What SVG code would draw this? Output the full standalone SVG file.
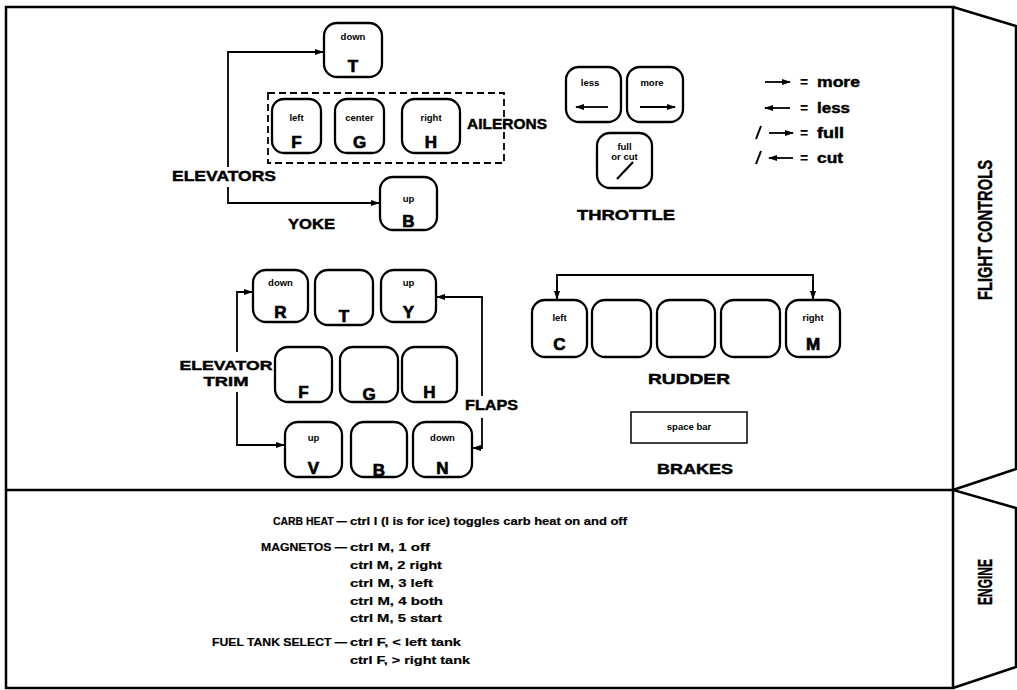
<svg xmlns="http://www.w3.org/2000/svg" width="1017" height="690" viewBox="0 0 1017 690">
<defs>
<marker id="ah" markerWidth="9" markerHeight="6" refX="8" refY="3" orient="auto" markerUnits="userSpaceOnUse">
<path d="M0,0 L9,3 L0,6 z" fill="#000"/>
</marker>
<style>
text{font-family:"Liberation Sans",Arial,sans-serif;font-weight:bold;fill:#000}
.key{fill:#fff;stroke:#000;stroke-width:2.3}
.sm{font-size:9.5px;text-anchor:middle}
.big{font-size:17px;text-anchor:middle;stroke:#000;stroke-width:0.7}
.lab{font-size:15px;stroke:#000;stroke-width:0.45}
.tab{font-size:21px;stroke:#000;stroke-width:0.4;text-anchor:middle}
.eng{font-size:11.5px;stroke:#000;stroke-width:0.2}
.con{fill:none;stroke:#000;stroke-width:1.8}
.frame{fill:none;stroke:#000;stroke-width:2.5}
</style>
</defs>
<rect width="1017" height="690" fill="#fff"/>
<g id="frame">
<path class="frame" d="M6,7 H953 V688 H6 Z M6,490 H953"/>
<path class="frame" d="M953,7 L1016,26 V469 L953,490 L1016,508 V667 L953,688"/>
<text class="tab" transform="translate(992,230) rotate(-90)" textLength="140" lengthAdjust="spacingAndGlyphs">FLIGHT CONTROLS</text>
<text class="tab" transform="translate(992,582) rotate(-90)" textLength="46" lengthAdjust="spacingAndGlyphs">ENGINE</text>
</g>
<g id="connectors">
<path class="con" d="M228,167 V52 H323" marker-end="url(#ah)"/>
<path class="con" d="M228,187 V203 H379" marker-end="url(#ah)"/>
<path class="con" d="M237,352 V292 H252" marker-end="url(#ah)"/>
<path class="con" d="M237,392 V445 H284" marker-end="url(#ah)"/>
<path class="con" d="M482,396 V297 H437" marker-end="url(#ah)"/>
<path class="con" d="M482,418 V448 H473" marker-end="url(#ah)"/>
<path class="con" d="M557,300 V275 H813 V300" />
<path class="con" d="M557,280 V299" marker-end="url(#ah)"/>
<path class="con" d="M813,280 V299" marker-end="url(#ah)"/>
</g>
<g id="elevators">
<text class="lab" x="172" y="181" textLength="104" lengthAdjust="spacingAndGlyphs">ELEVATORS</text>
</g>
<g id="yoke">
<text class="lab" x="288" y="229" textLength="47" lengthAdjust="spacingAndGlyphs">YOKE</text>
</g>
<g id="key-T-down">
<rect class="key" x="324" y="23" width="58" height="54" rx="13"/>
<text class="sm" x="353" y="40">down</text>
<text class="big" x="353" y="72">T</text>
</g>
<g id="ailerons">
<rect x="268" y="93" width="236" height="70" fill="none" stroke="#000" stroke-width="1.8" stroke-dasharray="7,4"/>
<text class="lab" x="467" y="129" textLength="80" lengthAdjust="spacingAndGlyphs">AILERONS</text>
</g>
<g id="key-F-left">
<rect class="key" x="272" y="99" width="49" height="54" rx="12"/>
<text class="sm" x="296.5" y="121">left</text>
<text class="big" x="296.5" y="148">F</text>
</g>
<g id="key-G-center">
<rect class="key" x="335" y="99" width="49" height="54" rx="12"/>
<text class="sm" x="359.5" y="121">center</text>
<text class="big" x="359.5" y="148">G</text>
</g>
<g id="key-H-right">
<rect class="key" x="402" y="99" width="58" height="54" rx="13"/>
<text class="sm" x="431" y="121">right</text>
<text class="big" x="431" y="148">H</text>
</g>
<g id="key-B-up">
<rect class="key" x="380" y="177" width="57" height="53" rx="13"/>
<text class="sm" x="408.5" y="202">up</text>
<text class="big" x="408.5" y="227">B</text>
</g>
<g id="throttle">
<text class="lab" x="577" y="220" textLength="98" lengthAdjust="spacingAndGlyphs">THROTTLE</text>
</g>
<g id="key-less">
<rect class="key" x="566" y="67" width="55" height="55" rx="13"/>
<text class="sm" x="590" y="86">less</text>
<path class="con" d="M608,107 H576" marker-end="url(#ah)"/>
</g>
<g id="key-more">
<rect class="key" x="627" y="67" width="56" height="55" rx="13"/>
<text class="sm" x="652" y="86">more</text>
<path class="con" d="M640,107 H675" marker-end="url(#ah)"/>
</g>
<g id="key-full-cut">
<rect class="key" x="597" y="133" width="55" height="55" rx="13"/>
<text class="sm" x="624.5" y="150">full</text>
<text class="sm" x="624.5" y="160">or cut</text>
<path d="M617,179 L633,162" stroke="#000" stroke-width="2.2"/>
</g>
<g id="legend">
<path class="con" d="M765,82 H790" marker-end="url(#ah)"/>
<text x="800" y="87" style="font-size:14px">=</text>
<text class="lab" x="817" y="87" textLength="43" lengthAdjust="spacingAndGlyphs">more</text>
<path class="con" d="M790,108 H765" marker-end="url(#ah)"/>
<text x="800" y="113" style="font-size:14px">=</text>
<text class="lab" x="817" y="113" textLength="33" lengthAdjust="spacingAndGlyphs">less</text>
<path d="M756,139 L761,126" stroke="#000" stroke-width="2"/>
<path class="con" d="M769,133 H793" marker-end="url(#ah)"/>
<text x="800" y="138" style="font-size:14px">=</text>
<text class="lab" x="817" y="138" textLength="27" lengthAdjust="spacingAndGlyphs">full</text>
<path d="M756,164 L761,151" stroke="#000" stroke-width="2"/>
<path class="con" d="M793,158 H769" marker-end="url(#ah)"/>
<text x="800" y="163" style="font-size:14px">=</text>
<text class="lab" x="817" y="163" textLength="26" lengthAdjust="spacingAndGlyphs">cut</text>
</g>
<g id="elevator-trim">
<text class="lab" x="226" y="370" text-anchor="middle" style="font-size:13.5px" textLength="93" lengthAdjust="spacingAndGlyphs">ELEVATOR</text>
<text class="lab" x="226" y="386" text-anchor="middle" style="font-size:13.5px" textLength="45" lengthAdjust="spacingAndGlyphs">TRIM</text>
</g>
<g id="flaps">
<text class="lab" x="465" y="410" textLength="53" lengthAdjust="spacingAndGlyphs">FLAPS</text>
</g>
<g id="key-R-down">
<rect class="key" x="253" y="270" width="55" height="52" rx="13"/>
<text class="sm" x="280.5" y="286">down</text>
<text class="big" x="280.5" y="318">R</text>
</g>
<g id="key-T">
<rect class="key" x="315" y="270" width="58" height="55" rx="13"/>
<text class="big" x="344" y="322">T</text>
</g>
<g id="key-Y-up">
<rect class="key" x="381" y="270" width="55" height="52" rx="13"/>
<text class="sm" x="408.5" y="286">up</text>
<text class="big" x="408.5" y="318">Y</text>
</g>
<g id="key-F2">
<rect class="key" x="275" y="347" width="57" height="55" rx="13"/>
<text class="big" x="303.5" y="398">F</text>
</g>
<g id="key-G2">
<rect class="key" x="340" y="347" width="58" height="55" rx="13"/>
<text class="big" x="369" y="400">G</text>
</g>
<g id="key-H2">
<rect class="key" x="402" y="347" width="55" height="55" rx="13"/>
<text class="big" x="429.5" y="398">H</text>
</g>
<g id="key-V-up">
<rect class="key" x="285" y="422" width="57" height="55" rx="13"/>
<text class="sm" x="313.5" y="441">up</text>
<text class="big" x="313.5" y="474">V</text>
</g>
<g id="key-B2">
<rect class="key" x="351" y="422" width="56" height="55" rx="13"/>
<text class="big" x="379" y="476">B</text>
</g>
<g id="key-N-down">
<rect class="key" x="413" y="422" width="59" height="55" rx="13"/>
<text class="sm" x="442.5" y="441">down</text>
<text class="big" x="442.5" y="474">N</text>
</g>
<g id="rudder">
<text class="lab" x="648" y="384" textLength="82" lengthAdjust="spacingAndGlyphs">RUDDER</text>
</g>
<g id="key-C-left">
<rect class="key" x="532" y="300" width="55" height="57" rx="13"/>
<text class="sm" x="559.5" y="321">left</text>
<text class="big" x="559.5" y="350">C</text>
</g>
<g id="key-r2"><rect class="key" x="592" y="300" width="59" height="57" rx="13"/></g>
<g id="key-r3"><rect class="key" x="657" y="300" width="58" height="57" rx="13"/></g>
<g id="key-r4"><rect class="key" x="721" y="300" width="59" height="57" rx="13"/></g>
<g id="key-M-right">
<rect class="key" x="786" y="300" width="54" height="57" rx="13"/>
<text class="sm" x="813" y="321">right</text>
<text class="big" x="813" y="350">M</text>
</g>
<g id="brakes">
<rect x="631" y="412" width="116" height="31" fill="#fff" stroke="#000" stroke-width="1.5"/>
<text class="sm" x="689" y="430">space bar</text>
<text class="lab" x="657" y="474" textLength="76" lengthAdjust="spacingAndGlyphs">BRAKES</text>
</g>
<g id="engine-text">
<text class="eng" x="347" y="525" text-anchor="end" textLength="74" lengthAdjust="spacingAndGlyphs">CARB HEAT —</text>
<text class="eng" x="350" y="525" textLength="277" lengthAdjust="spacingAndGlyphs">ctrl I (I is for ice) toggles carb heat on and off</text>
<text class="eng" x="347" y="551" text-anchor="end" textLength="86" lengthAdjust="spacingAndGlyphs">MAGNETOS —</text>
<text class="eng" x="350" y="551" textLength="80" lengthAdjust="spacingAndGlyphs">ctrl M, 1 off</text>
<text class="eng" x="350" y="569" textLength="92" lengthAdjust="spacingAndGlyphs">ctrl M, 2 right</text>
<text class="eng" x="350" y="587" textLength="83" lengthAdjust="spacingAndGlyphs">ctrl M, 3 left</text>
<text class="eng" x="350" y="605" textLength="93" lengthAdjust="spacingAndGlyphs">ctrl M, 4 both</text>
<text class="eng" x="350" y="622" textLength="92" lengthAdjust="spacingAndGlyphs">ctrl M, 5 start</text>
<text class="eng" x="347" y="646" text-anchor="end" textLength="135" lengthAdjust="spacingAndGlyphs">FUEL TANK SELECT —</text>
<text class="eng" x="350" y="646" textLength="111" lengthAdjust="spacingAndGlyphs">ctrl F, &lt; left tank</text>
<text class="eng" x="350" y="664" textLength="120" lengthAdjust="spacingAndGlyphs">ctrl F, &gt; right tank</text>
</g>
</svg>
